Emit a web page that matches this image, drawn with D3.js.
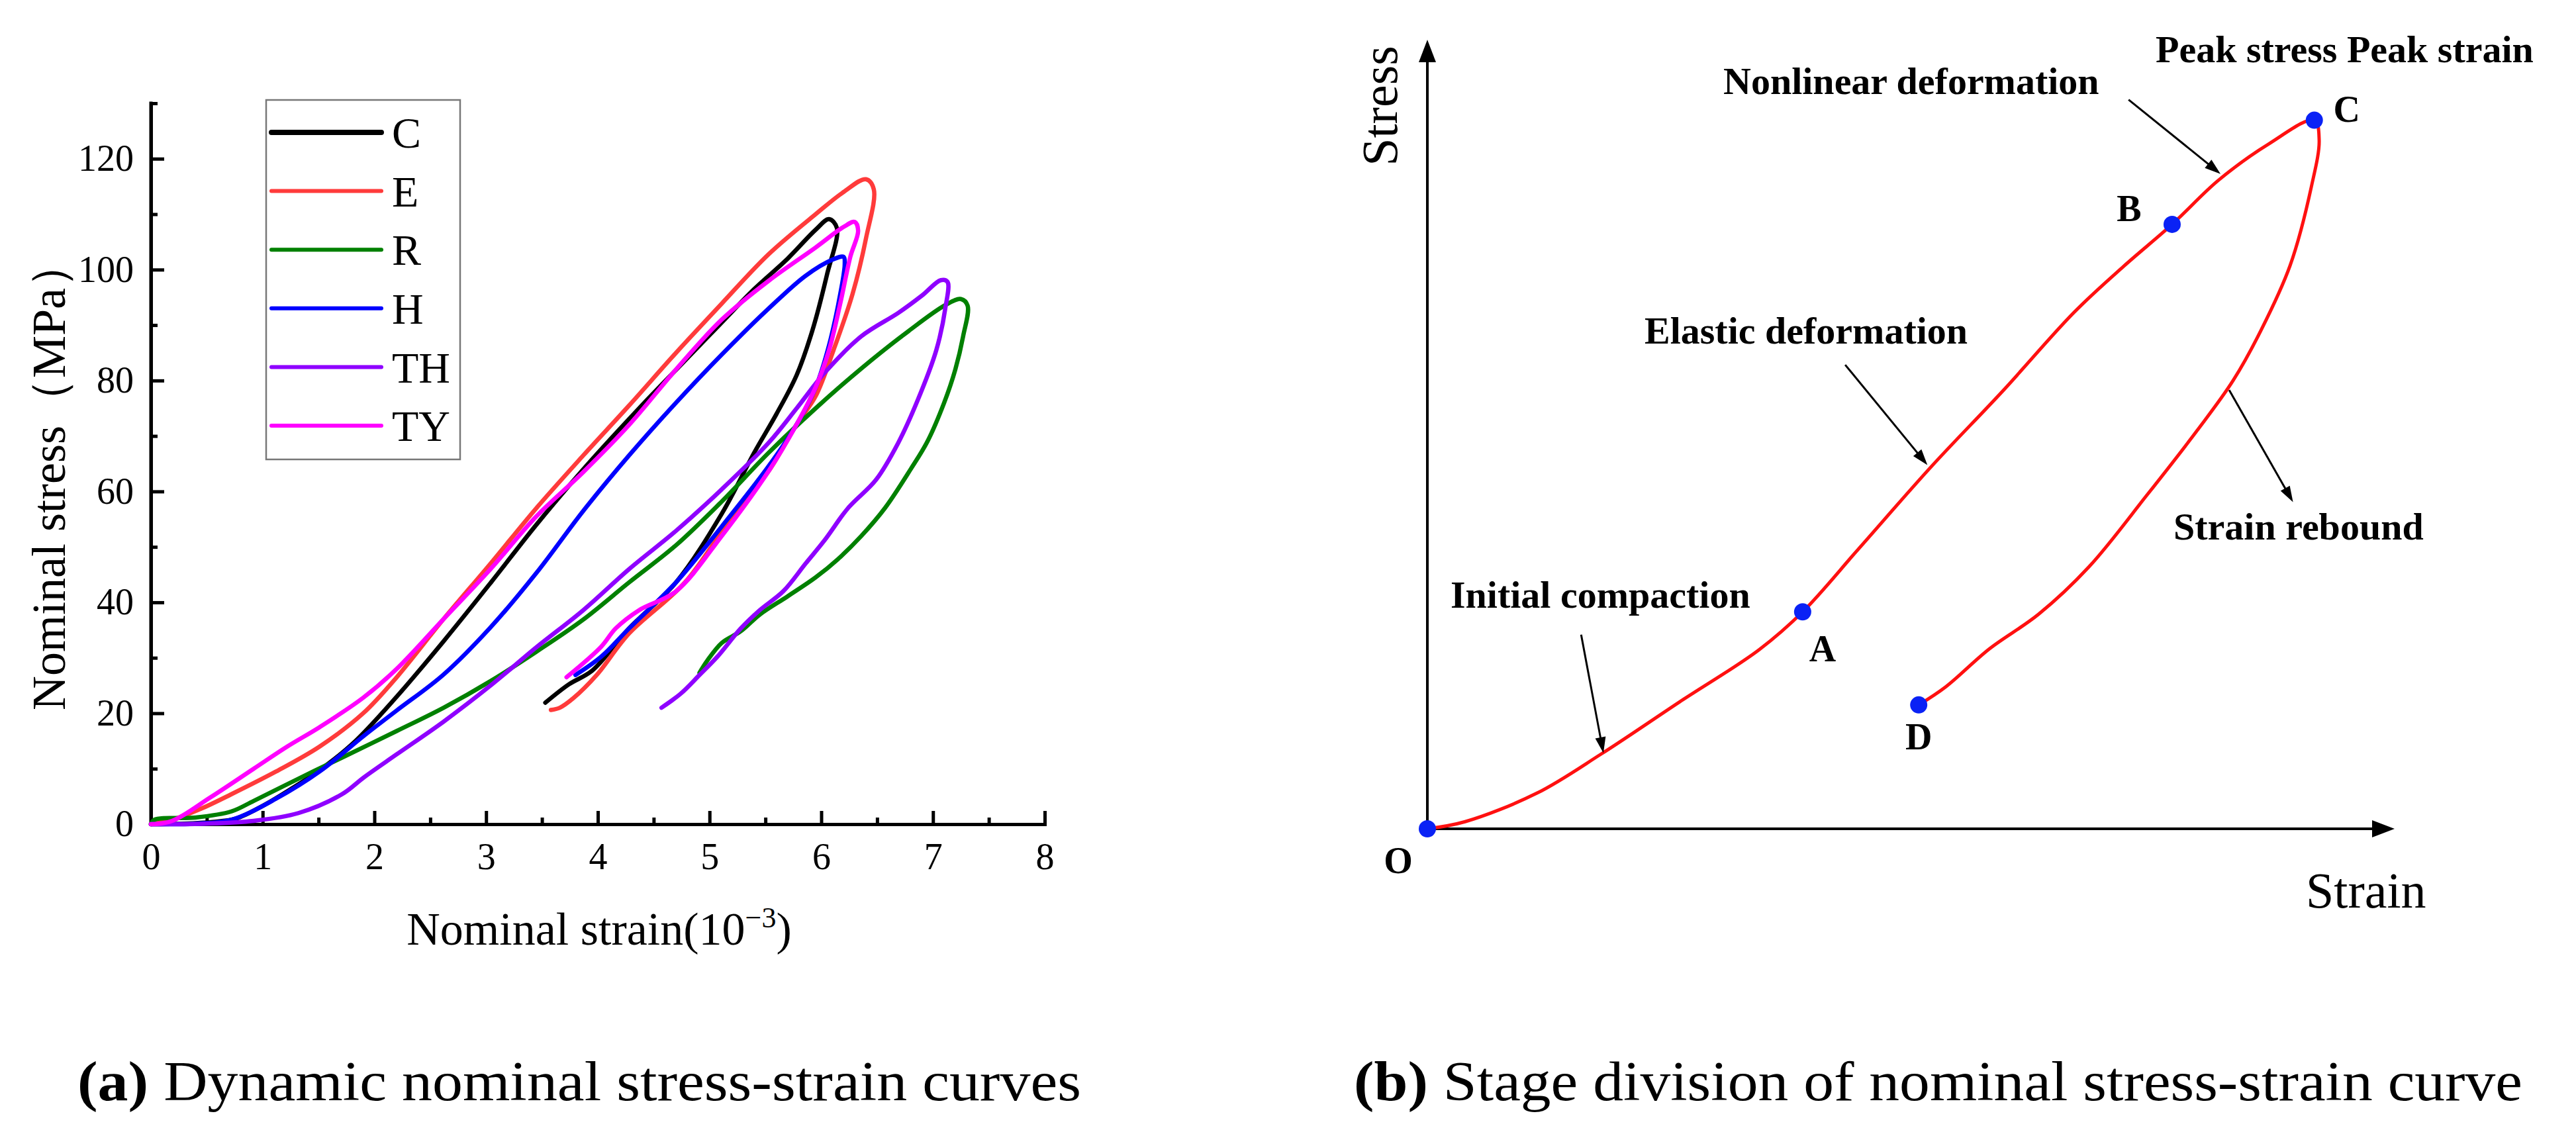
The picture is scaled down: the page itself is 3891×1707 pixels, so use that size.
<!DOCTYPE html>
<html>
<head>
<meta charset="utf-8">
<script src="https://cdn.jsdelivr.net/npm/d3@7"></script>
<style>
  body { margin: 0; background: #fff; }
  svg { display: block; background: #fff; }
  text { font-family: "Liberation Serif", "Times New Roman", serif; fill: #000; }
</style>
</head>
<body>
<svg id="fig" width="3891" height="1707"></svg>
<script>
// panel (a): nominal strain (10^-3) against nominal stress (MPa), one loop per sample
const seriesNames = ['C', 'E', 'R', 'H', 'TH', 'TY'];
const curveC = [[0,0],[0.3,0.1],[0.55,0.4],[0.76,1.0],[1.0,3.3],[1.25,6.3],[1.5,9.6],[1.81,14.6],[2.2,23],[2.62,33],[3.04,43.5],[3.45,54],[3.87,64],[4.37,75],[4.8,84],[5.11,90.5],[5.4,96.5],[5.7,102],[5.95,107.2],[6.07,109.1],[6.14,107.5],
  [6.05,99],[5.92,89],[5.78,81],[5.6,74],[5.4,67],[5.11,56],[4.7,43.6],[4.28,35.3],[3.95,27.7],[3.74,25.2],[3.53,21.9]];
const curveE = [[0,0],[0.19,0.8],[0.45,2.8],[0.72,5.4],[1.12,9.5],[1.51,14],[1.9,20],[2.2,26.5],[2.62,37],[3.04,47],[3.45,57],[3.87,66.5],[4.28,75.5],[4.7,85],[5.11,93.9],[5.53,102.8],[5.95,110],[6.2,114],[6.4,116.3],[6.47,114.5],
  [6.4,105.6],[6.28,95.6],[6.11,85.5],[5.95,77.2],[5.78,72.1],[5.53,63.7],[5.2,55.4],[4.78,43.6],[4.28,34.4],[3.99,26.9],[3.78,22.7],[3.66,21],[3.58,20.6]];
const curveR = [[0,0],[0.03,0.8],[0.4,1.2],[0.72,2.3],[0.92,4.2],[1.32,8.2],[1.71,12],[2.2,16.8],[2.62,21],[3.04,25.8],[3.45,31.1],[3.87,36.9],[4.28,43.6],[4.7,50.3],[5.11,58.2],[5.53,67],[5.95,75],[6.36,82.2],[6.78,88.9],[7.11,93.6],[7.25,94.7],[7.31,93.5],
  [7.27,88],[7.2,82],[7.1,76],[6.95,69],[6.8,64],[6.57,57],[6.36,52],[6.15,47.8],[5.95,44.5],[5.7,41.1],[5.45,37.8],[5.28,34.8],[5.11,32.7],[4.98,29.5],[4.91,27.3]];
const curveH = [[0,0],[0.4,0.1],[0.72,0.8],[1.12,4.6],[1.51,9.5],[1.91,16],[2.2,20.5],[2.62,27],[3.04,35.5],[3.45,45.3],[3.87,56.5],[4.28,66.5],[4.7,76],[5.11,84.7],[5.53,93],[5.86,98.9],[6.1,101.8],[6.2,102.3],[6.21,101],
  [6.17,95.6],[6.07,86.4],[5.95,78.8],[5.78,72.1],[5.53,64.6],[5.11,53.7],[4.7,43.6],[4.28,35.3],[4.03,30.2],[3.8,26.9]];
const curveTH = [[0,0],[0.5,0.1],[0.92,0.6],[1.32,2],[1.71,5.4],[1.91,8.5],[2.2,12.6],[2.62,18.5],[3.04,25],[3.45,31.9],[3.87,38.6],[4.28,46],[4.7,52.9],[5.11,60.4],[5.53,68.8],[5.78,75],[6.03,81.4],[6.36,88],[6.69,92.2],[6.9,95.3],[7.07,98.1],[7.13,97.8],
  [7.11,93],[7.03,85.5],[6.86,76.3],[6.69,68.8],[6.49,62.1],[6.24,57],[6.03,51.2],[5.86,47],[5.66,42],[5.45,38.6],[5.28,35.3],[5.07,30.2],[4.91,26.9],[4.74,23.5],[4.57,21]];
const curveTY = [[0,0],[0.19,0.6],[0.53,4.8],[0.92,10],[1.22,14],[1.51,17.5],[1.9,22.8],[2.2,28],[2.62,37],[3.04,46],[3.45,55.5],[3.87,63.5],[4.28,72],[4.7,82],[5.11,91],[5.53,98],[5.95,104],[6.2,107.7],[6.3,108.6],[6.33,107],
  [6.26,102.3],[6.17,93.9],[6.07,85.5],[5.95,78.8],[5.78,72.1],[5.53,63.7],[5.11,52],[4.7,42],[4.37,38.6],[4.16,35.3],[4.03,32],[3.72,26.5]];
const xTicks = [0, 1, 2, 3, 4, 5, 6, 7, 8];
const xMinorTicks = [0.5, 1.5, 2.5, 3.5, 4.5, 5.5, 6.5, 7.5];
const yTicks = [0, 20, 40, 60, 80, 100, 120];
const yMinorTicks = [10, 30, 50, 70, 90, 110, 130];

// panel (b): schematic curve, arbitrary units
const stageCurve = [[0,0],[0.39,0.09],[1.13,0.45],[1.8,0.95],[2.61,1.61],[3.43,2.27],[3.88,2.75],[4.46,3.55],[5.21,4.59],[5.95,5.55],[6.69,6.55],[7.2,7.13],[7.7,7.66],[8.18,8.22],[8.7,8.68],[9.17,8.98],
  [9.22,8.73],[9.14,8.14],[8.92,7.14],[8.62,6.32],[8.33,5.68],[7.96,5.05],[7.44,4.23],[6.84,3.32],[6.32,2.72],[5.81,2.28],[5.36,1.8],[5.08,1.57]];
const stagePoints = [
  { label: 'O', x: 0, y: 0 },
  { label: 'A', x: 3.88, y: 2.75 },
  { label: 'B', x: 7.7, y: 7.66 },
  { label: 'C', x: 9.17, y: 8.98 },
  { label: 'D', x: 5.08, y: 1.57 }
];
const stageNotes = [
  { text: 'Initial compaction', from: [1.59, 2.46], to: [1.82, 0.96] },
  { text: 'Elastic deformation', from: [4.32, 5.88], to: [5.17, 4.61] },
  { text: 'Nonlinear deformation', from: [7.25, 9.24], to: [8.2, 8.3] },
  { text: 'Strain rebound', from: [8.29, 5.56], to: [8.95, 4.14] }
];

const svg = d3.select('#fig');
const colors = { C: '#000000', E: '#ff3b3b', R: '#008000', H: '#0000ff', TH: '#8f00ff', TY: '#ff00ff' };
const curves = { C: curveC, E: curveE, R: curveR, H: curveH, TH: curveTH, TY: curveTY };

// ---------- (a)
const x = d3.scaleLinear().domain([0, 8]).range([228, 1578]);
const y = d3.scaleLinear().domain([0, 130]).range([1245, 156]);

const gxMinor = svg.append('g').attr('transform', `translate(0,${y(0)})`)
  .call(d3.axisBottom(x).tickValues(xMinorTicks).tickSize(-10).tickSizeOuter(0).tickFormat(''));
const gx = svg.append('g').attr('transform', `translate(0,${y(0)})`)
  .call(d3.axisBottom(x).tickValues(xTicks).tickSize(-20).tickSizeOuter(0).tickPadding(28));
const gyMinor = svg.append('g').attr('transform', `translate(${x(0)},0)`)
  .call(d3.axisLeft(y).tickValues(yMinorTicks).tickSize(-10).tickSizeOuter(0).tickFormat(''));
const gy = svg.append('g').attr('transform', `translate(${x(0)},0)`)
  .call(d3.axisLeft(y).tickValues(yTicks).tickSize(-20).tickSizeOuter(0).tickPadding(26));

gyMinor.select('.domain').attr('d', `M0,${y(130)}V${y(0)}`);
[gxMinor, gx, gyMinor, gy].forEach(g => {
  g.selectAll('.domain').attr('stroke', '#000').attr('stroke-width', 5).attr('stroke-linecap', 'square');
  g.selectAll('.tick line').attr('stroke', '#000').attr('stroke-width', 5);
  g.selectAll('.tick text').attr('font-size', 56).attr('font-family', '"Liberation Serif", serif').attr('fill', '#000');
});

const line = d3.line().x(d => x(d[0])).y(d => y(d[1])).curve(d3.curveCatmullRom.alpha(0.5));
seriesNames.forEach(name => {
  svg.append('path').datum(curves[name])
    .attr('d', line)
    .attr('fill', 'none')
    .attr('stroke', colors[name])
    .attr('stroke-width', 6.5)
    .attr('stroke-linecap', 'round')
    .attr('stroke-linejoin', 'round');
});

// legend
svg.append('rect').attr('x', 402).attr('y', 151).attr('width', 293).attr('height', 543)
  .attr('fill', 'none').attr('stroke', '#777').attr('stroke-width', 2.5);
seriesNames.forEach((name, i) => {
  const ly = 200 + i * 88.6;
  svg.append('line').attr('x1', 410).attr('x2', 576).attr('y1', ly).attr('y2', ly)
    .attr('stroke', colors[name]).attr('stroke-width', name === 'C' ? 8 : 6).attr('stroke-linecap', 'round');
  svg.append('text').attr('x', 592).attr('y', ly).attr('dy', '0.35em').attr('font-size', 66).text(name);
});

// axis titles
const xt = svg.append('text').attr('x', 905).attr('y', 1427).attr('text-anchor', 'middle').attr('font-size', 70);
xt.append('tspan').text('Nominal strain(10');
xt.append('tspan').attr('dy', -26).attr('font-size', 44).text('\u22123');
xt.append('tspan').attr('dy', 26).text(')');

svg.append('text').attr('transform', 'translate(98,718) rotate(-90)')
  .attr('text-anchor', 'middle').attr('font-size', 72).text('Nominal stress\uff08MPa\uff09');

// ---------- (b)
const xs = d3.scaleLinear().domain([0, 10]).range([2156, 3617]);
const ys = d3.scaleLinear().domain([0, 10]).range([1252, 60]);

function arrow(x1, y1, x2, y2, len, half, width) {
  const dx = x2 - x1, dy = y2 - y1, L = Math.hypot(dx, dy);
  const ux = dx / L, uy = dy / L;
  const bx = x2 - ux * len, by = y2 - uy * len;
  svg.append('line').attr('x1', x1).attr('y1', y1).attr('x2', x2 - ux * len * 0.6).attr('y2', y2 - uy * len * 0.6)
    .attr('stroke', '#000').attr('stroke-width', width);
  svg.append('path')
    .attr('d', `M${x2},${y2}L${bx - uy * half},${by + ux * half}L${bx + uy * half},${by - ux * half}Z`)
    .attr('fill', '#000');
}

arrow(xs(0), ys(0), xs(10), ys(0), 34, 13, 4);
arrow(xs(0), ys(0), xs(0), ys(10), 34, 13, 4);

const stageLine = d3.line().x(d => xs(d[0])).y(d => ys(d[1])).curve(d3.curveCatmullRom.alpha(0.5));
svg.append('path').datum(stageCurve).attr('d', stageLine)
  .attr('fill', 'none').attr('stroke', '#ff1010').attr('stroke-width', 5).attr('stroke-linejoin', 'round');

stageNotes.forEach(n => arrow(xs(n.from[0]), ys(n.from[1]), xs(n.to[0]), ys(n.to[1]), 24, 8, 3));

svg.selectAll('circle.pt').data(stagePoints).join('circle').attr('class', 'pt')
  .attr('cx', d => xs(d.x)).attr('cy', d => ys(d.y)).attr('r', 13).attr('fill', '#0a22f5');

// point labels
const ptOffset = { O: [-44, 47], A: [30, 55], B: [-65, -25], C: [49, -17], D: [0, 48] };
stagePoints.forEach(p => {
  svg.append('text').attr('x', xs(p.x) + ptOffset[p.label][0]).attr('y', ys(p.y) + ptOffset[p.label][1])
    .attr('dy', '0.35em').attr('text-anchor', 'middle').attr('font-size', 56).attr('font-weight', 'bold').text(p.label);
});

// stage annotations
const notePos = [[2191, 898], [2484, 499], [2603, 122], [3283, 795]];
stageNotes.forEach((n, i) => {
  svg.append('text').attr('x', notePos[i][0]).attr('y', notePos[i][1]).attr('dy', '0.35em')
    .attr('font-size', 58).attr('font-weight', 'bold').text(n.text);
});
svg.append('text').attr('x', 3256).attr('y', 74).attr('dy', '0.35em')
  .attr('font-size', 58).attr('font-weight', 'bold').text('Peak stress Peak strain');

svg.append('text').attr('transform', 'translate(2110,160) rotate(-90)')
  .attr('text-anchor', 'middle').attr('font-size', 76).text('Stress');
svg.append('text').attr('x', 3483).attr('y', 1371).attr('font-size', 76).text('Strain');

// ---------- captions (stretched to the reference width)
function caption(x0, target, bold, rest) {
  const t = svg.append('text').attr('x', x0).attr('y', 1662).attr('font-size', 84)
    .attr('textLength', target).attr('lengthAdjust', 'spacingAndGlyphs');
  t.append('tspan').attr('font-weight', 'bold').text(bold);
  t.append('tspan').text(rest);
}
caption(117, 1516, '(a)', ' Dynamic nominal stress-strain curves');
caption(2045, 1765, '(b)', ' Stage division of nominal stress-strain curve');
</script>
</body>
</html>
